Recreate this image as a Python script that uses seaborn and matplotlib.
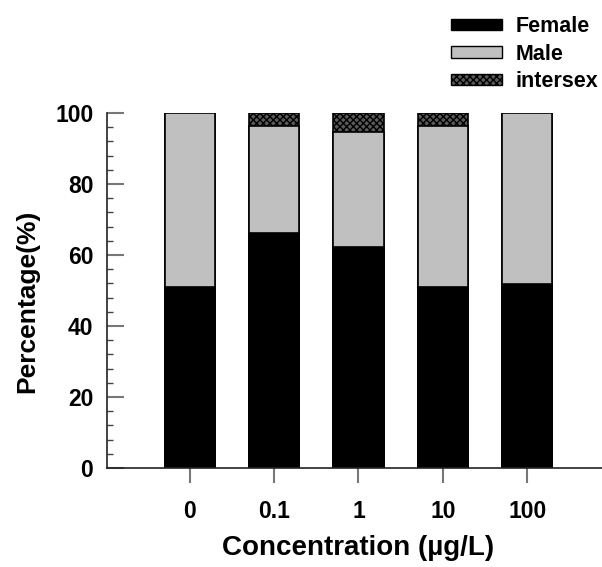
import matplotlib
matplotlib.use("Agg")
import matplotlib.pyplot as plt
from matplotlib.patches import Patch
from matplotlib.ticker import MultipleLocator
import seaborn as sns
import numpy as np
import pandas as pd

categories = ["0", "0.1", "1", "10", "100"]
female = [51.0, 66.3, 62.3, 51.0, 51.8]
male = [49.0, 30.1, 32.5, 45.4, 48.2]
intersex = [0.0, 3.6, 5.2, 3.6, 0.0]

sns.set_style("white")
plt.rcParams["font.family"] = ["Liberation Sans", "DejaVu Sans"]
plt.rcParams["font.weight"] = "bold"
plt.rcParams["text.color"] = "black"
plt.rcParams["axes.labelcolor"] = "black"
plt.rcParams["xtick.color"] = "black"
plt.rcParams["ytick.color"] = "black"
plt.rcParams["hatch.color"] = "#111111"
plt.rcParams["hatch.linewidth"] = 1.0

f = np.array(female)
fm = f + np.array(male)
tot = fm + np.array(intersex)
df = pd.DataFrame({"cat": categories, "female": f, "fm": fm, "tot": tot})

fig = plt.figure(figsize=(6.02, 5.67), dpi=100)
ax = fig.add_axes([0.178, 0.1746, 0.835, 0.626])

sns.barplot(data=df, x="cat", y="tot", order=categories, color="#5a5a5a",
            edgecolor="black", linewidth=1.2, width=0.6, hatch="xxxxx", ax=ax,
            saturation=1)
sns.barplot(data=df, x="cat", y="fm", order=categories, color="#c0c0c0",
            edgecolor="black", linewidth=1.2, width=0.6, ax=ax, saturation=1)
sns.barplot(data=df, x="cat", y="female", order=categories, color="black",
            edgecolor="black", linewidth=1.2, width=0.6, ax=ax, saturation=1)

ax.set_xlim(-0.98, 4.98)
ax.set_ylim(0, 100)
ax.set_yticks([0, 20, 40, 60, 80, 100])
ax.yaxis.set_minor_locator(MultipleLocator(4))
for s in ["top", "right"]:
    ax.spines[s].set_visible(False)
ax.spines["left"].set_color("#222222")
ax.spines["bottom"].set_color("#222222")
ax.spines["left"].set_linewidth(1.2)
ax.spines["bottom"].set_linewidth(1.2)

ax.tick_params(axis="y", which="both", left=True)
ax.tick_params(axis="x", which="major", bottom=True)
ax.tick_params(axis="y", which="major", direction="in", length=12, width=1.5,
               color="#777777", labelcolor="black", labelsize=16.5, pad=10)
ax.tick_params(axis="y", which="minor", direction="in", length=4, width=1.0,
               color="#444444")
ax.tick_params(axis="x", which="major", direction="out", length=11, width=1.5,
               color="#777777", labelcolor="black", labelsize=16.5, pad=12)
for lab in ax.get_xticklabels() + ax.get_yticklabels():
    lab.set_fontweight("bold")

ax.set_xlabel("Concentration (µg/L)", fontsize=20, fontweight="bold", labelpad=9,
              color="black")
ax.set_ylabel("Percentage(%)", fontsize=19, fontweight="bold", labelpad=5,
              color="black")
ax.yaxis.set_label_coords(-0.135, 0.47)

handles = [
    Patch(facecolor="black", edgecolor="black", label="Female"),
    Patch(facecolor="#c0c0c0", edgecolor="black", label="Male"),
    Patch(facecolor="#5a5a5a", edgecolor="black", hatch="xxxxx", label="intersex"),
]
leg = fig.legend(handles=handles, loc="upper right", bbox_to_anchor=(1.022, 1.002),
                 frameon=False, handlelength=2.4, handleheight=0.45,
                 handletextpad=0.6, labelspacing=0.3, borderpad=0.3,
                 prop={"size": 15.5, "weight": "bold"})
for t in leg.get_texts():
    t.set_color("black")

fig.savefig("out.png", dpi=100)
